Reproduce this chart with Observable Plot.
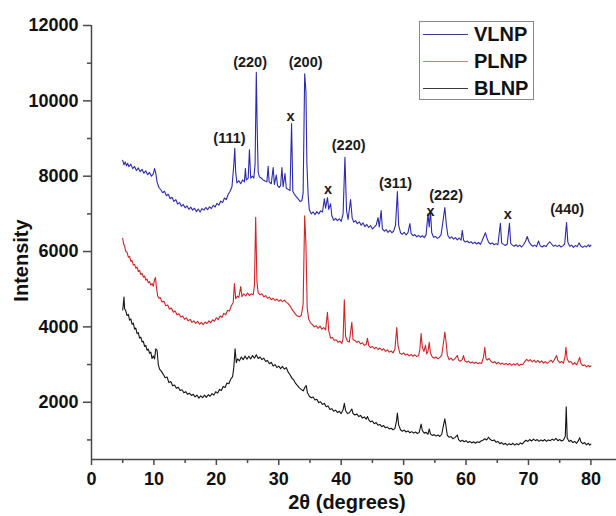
<!DOCTYPE html>
<html>
<head>
<meta charset="utf-8">
<script src="https://cdn.jsdelivr.net/npm/d3@7"></script>
<script src="https://cdn.jsdelivr.net/npm/@observablehq/plot@0.6"></script>
<style>
  html, body { margin: 0; padding: 0; background: #fff; }
  #wrap { position: relative; width: 616px; height: 516px; font-family: "Liberation Sans", Arial, sans-serif; }
  #legend { position: absolute; left: 419px; top: 21px; width: 113px; height: 77px; border: 1px solid #888; background: #fff; }
  .row { position: absolute; left: 0; height: 24px; width: 113px; }
  .row .ln { position: absolute; left: 3px; top: 12px; width: 45px; height: 0; border-top: 1px solid; }
  .row .tx { position: absolute; left: 54px; top: 0; font-size: 20px; font-weight: bold; line-height: 24px; color: #111; }
</style>
</head>
<body>
<div id="wrap"><div id="legend"></div></div>
<script>
// ---- data ----
const seriesNames = ["VLNP", "PLNP", "BLNP"];
const seriesColors = ["#2a2ab2", "#d42222", "#141414"];

const xVLNP = [5.0,5.2,5.4,5.6,5.8,6.0,6.3,6.6,6.9,7.2,7.5,7.8,8.1,8.4,8.7,9.0,9.3,9.6,9.9,10.1,10.3,10.5,10.8,11.1,11.4,11.7,12.0,12.3,12.6,12.9,13.2,13.5,13.8,14.1,14.4,14.7,15.0,15.3,15.6,15.9,16.2,16.5,16.8,17.1,17.4,17.7,18.0,18.3,18.6,18.9,19.2,19.5,19.8,20.1,20.4,20.7,21.0,21.3,21.6,21.9,22.2,22.5,22.8,22.95,23.1,23.3,23.6,23.9,24.2,24.5,24.65,24.8,25.1,25.3,25.5,25.8,26.0,26.2,26.4,26.55,26.7,26.9,27.2,27.5,27.8,28.1,28.3,28.45,28.8,29.1,29.3,29.6,29.8,30.1,30.3,30.5,30.7,31.0,31.2,31.5,31.8,32.05,32.25,32.5,32.8,33.1,33.4,33.7,33.9,34.15,34.35,34.5,34.7,34.9,35.2,35.5,35.8,36.1,36.4,36.7,37.0,37.3,37.5,37.8,38.0,38.3,38.5,38.8,39.1,39.4,39.7,40.0,40.3,40.6,40.85,41.1,41.5,41.75,42.0,42.3,42.6,42.9,43.2,43.5,43.8,44.1,44.4,44.7,45.0,45.3,45.6,45.9,46.1,46.4,46.6,46.9,47.2,47.5,47.8,48.1,48.4,48.7,49.0,49.2,49.5,49.8,50.1,50.4,50.7,51.0,51.2,51.5,51.8,52.1,52.4,52.7,53.0,53.3,53.6,53.9,54.1,54.3,54.5,54.8,55.1,55.4,55.7,56.0,56.3,56.6,56.85,57.1,57.4,57.7,58.0,58.3,58.6,58.9,59.2,59.4,59.6,59.9,60.2,60.5,60.8,61.1,61.4,61.7,62.0,62.3,62.6,62.9,63.1,63.3,63.6,63.9,64.2,64.5,64.8,65.1,65.5,65.7,66.0,66.3,66.6,66.95,67.15,67.4,67.7,68.0,68.3,68.6,68.9,69.2,69.5,69.8,70.1,70.4,70.7,71.0,71.3,71.6,71.9,72.2,72.5,72.8,73.1,73.4,73.7,74.0,74.3,74.6,74.9,75.2,75.5,75.8,76.1,76.3,76.6,76.9,77.2,77.5,77.8,78.1,78.4,78.7,79.0,79.3,79.6,79.8,80.0];
const yVLNP = [8420,8300,8380,8280,8340,8250,8320,8200,8260,8150,8220,8120,8180,8080,8140,8040,8100,8000,8060,8200,8080,7850,7700,7640,7560,7600,7480,7520,7400,7440,7330,7380,7260,7300,7200,7250,7160,7210,7120,7180,7100,7150,7060,7130,7050,7140,7100,7170,7110,7190,7140,7230,7180,7280,7230,7340,7300,7420,7380,7520,7600,7720,8300,8740,8100,7820,7880,7800,7900,7850,8200,7900,7950,8700,7950,8000,7950,8300,10760,9200,8100,7980,7950,7900,7870,7850,8260,7850,7800,8230,7780,8030,7750,7700,7760,8230,7720,8070,7680,7650,7620,9400,7600,7520,7460,7400,7330,7350,7550,10720,10250,8360,7500,7100,7000,7050,6980,7060,7000,7080,7050,7400,7150,7430,7120,7270,6950,6830,6880,6820,6870,6800,7000,8500,7100,6850,7380,6900,6780,6820,6740,6790,6700,6760,6660,6720,6640,6690,6600,6650,6700,6900,6650,7090,6600,6540,6580,6510,6560,6500,6540,6700,7590,6700,6500,6460,6510,6440,6500,6740,6480,6420,6450,6390,6430,6380,6420,6370,6450,7000,6650,7090,6500,6380,6400,6350,6380,6450,6800,7170,6700,6420,6350,6390,6330,6370,6310,6360,6300,6560,6300,6250,6280,6230,6260,6210,6250,6200,6240,6190,6300,6420,6500,6380,6250,6200,6230,6180,6210,6180,6750,6230,6190,6160,6200,6750,6220,6170,6140,6180,6130,6170,6120,6180,6260,6400,6250,6180,6140,6170,6130,6280,6150,6120,6160,6130,6200,6260,6200,6140,6170,6130,6170,6120,6150,6200,6770,6250,6140,6170,6110,6160,6130,6230,6140,6110,6150,6120,6180,6130,6170];

const xPLNP = [5.0,5.15,5.3,5.5,5.7,5.9,6.1,6.3,6.5,6.7,6.9,7.1,7.3,7.5,7.7,7.9,8.1,8.3,8.5,8.7,8.9,9.1,9.3,9.5,9.7,9.9,10.1,10.25,10.4,10.6,10.8,11.0,11.3,11.6,11.9,12.2,12.5,12.8,13.1,13.4,13.7,14.0,14.3,14.6,14.9,15.2,15.5,15.8,16.1,16.4,16.7,17.0,17.3,17.6,17.9,18.2,18.5,18.8,19.1,19.4,19.7,20.0,20.3,20.6,20.9,21.2,21.5,21.8,22.1,22.4,22.7,22.9,23.1,23.4,23.6,23.9,24.1,24.4,24.7,25.0,25.3,25.6,25.9,26.1,26.3,26.5,26.7,27.0,27.3,27.6,27.9,28.2,28.5,28.8,29.1,29.4,29.7,30.0,30.3,30.6,30.9,31.2,31.5,31.8,32.1,32.4,32.7,33.0,33.3,33.6,33.9,34.15,34.35,34.55,34.8,35.1,35.4,35.7,36.0,36.3,36.6,36.9,37.2,37.5,37.8,38.0,38.3,38.6,38.9,39.2,39.5,39.8,40.1,40.3,40.5,40.7,41.0,41.3,41.7,41.9,42.2,42.5,42.8,43.1,43.4,43.7,44.0,44.2,44.4,44.7,45.0,45.3,45.6,45.9,46.2,46.5,46.8,47.1,47.4,47.7,48.0,48.3,48.6,48.9,49.1,49.4,49.7,50.0,50.3,50.6,50.9,51.2,51.5,51.8,52.1,52.4,52.6,52.8,53.0,53.25,53.5,53.7,53.9,54.1,54.3,54.6,54.9,55.2,55.5,55.8,56.1,56.4,56.6,56.8,57.0,57.3,57.6,57.9,58.2,58.6,58.8,59.1,59.4,59.6,59.8,60.1,60.4,60.7,61.0,61.3,61.6,61.9,62.2,62.5,62.8,63.0,63.2,63.4,63.7,64.0,64.3,64.6,64.9,65.2,65.5,65.8,66.1,66.4,66.7,67.0,67.3,67.6,67.9,68.2,68.5,68.8,69.1,69.4,69.7,70.0,70.3,70.6,70.9,71.2,71.5,71.8,72.1,72.4,72.7,73.0,73.3,73.6,73.9,74.2,74.5,74.7,75.0,75.3,75.6,75.85,76.0,76.2,76.5,76.8,77.1,77.4,77.7,78.0,78.2,78.4,78.7,79.0,79.3,79.6,79.8,80.0];
const yPLNP = [6350,6200,6150,6000,5980,5850,5870,5740,5760,5640,5660,5560,5590,5470,5500,5390,5420,5320,5350,5240,5270,5170,5200,5110,5150,5080,5250,5310,5050,4820,4760,4780,4660,4680,4560,4580,4470,4500,4390,4420,4320,4350,4260,4290,4200,4240,4160,4200,4120,4160,4090,4150,4070,4120,4060,4130,4090,4160,4110,4190,4150,4240,4190,4290,4250,4360,4320,4440,4420,4560,4650,5150,4750,4820,4780,5070,4800,4880,4820,4900,4830,4880,4850,5100,6910,5200,4900,4850,4880,4800,4830,4760,4790,4720,4760,4700,4740,4680,4720,4670,4710,4650,4620,4560,4470,4400,4330,4290,4270,4300,4600,6950,6200,4500,4200,4100,4060,4000,4030,3960,4020,3940,3980,3920,4390,3900,3700,3720,3640,3660,3590,3620,3560,3700,4720,3750,3620,3600,4120,3660,3640,3590,3620,3550,3580,3510,3530,3700,3510,3450,3480,3420,3460,3400,3440,3380,3420,3350,3390,3330,3360,3310,3400,3980,3500,3300,3270,3310,3250,3280,3230,3270,3220,3260,3210,3240,3400,3820,3450,3350,3510,3280,3350,3590,3300,3200,3170,3200,3150,3190,3250,3600,3860,3600,3250,3130,3170,3110,3150,3240,3120,3090,3130,3240,3100,3060,3090,3040,3070,3030,3060,3020,3050,3030,3200,3460,3150,3120,3160,3080,3050,3080,3020,3060,3010,3040,3000,3030,2990,3030,2980,3020,2990,3030,2970,3010,3000,3080,3140,3090,3130,3070,3120,3060,3110,3050,3100,3040,3080,3030,3070,3120,3060,3150,3240,3110,3050,3080,3040,3200,3460,3150,3060,3080,3000,3050,2990,3100,3190,3030,2970,2990,2940,2980,2940,2960];

const xBLNP = [5.0,5.1,5.2,5.3,5.5,5.7,5.9,6.1,6.3,6.5,6.7,6.9,7.1,7.3,7.5,7.7,7.9,8.1,8.3,8.5,8.7,8.9,9.1,9.3,9.5,9.7,9.9,10.1,10.3,10.5,10.7,10.9,11.2,11.5,11.8,12.1,12.4,12.7,13.0,13.3,13.6,13.9,14.2,14.5,14.8,15.1,15.4,15.7,16.0,16.3,16.6,16.9,17.2,17.5,17.8,18.1,18.4,18.7,19.0,19.3,19.6,19.9,20.2,20.5,20.8,21.1,21.4,21.7,22.0,22.3,22.6,22.8,23.0,23.2,23.4,23.7,24.0,24.3,24.6,24.9,25.2,25.5,25.8,26.1,26.4,26.7,27.0,27.3,27.6,27.9,28.2,28.5,28.8,29.1,29.4,29.7,30.0,30.3,30.6,30.9,31.2,31.5,31.8,32.1,32.4,32.7,33.0,33.3,33.6,33.9,34.2,34.4,34.6,34.9,35.2,35.5,35.8,36.1,36.4,36.7,37.0,37.3,37.6,37.9,38.2,38.5,38.8,39.1,39.4,39.7,40.0,40.3,40.5,40.7,41.0,41.3,41.7,41.9,42.2,42.5,42.8,43.1,43.4,43.7,44.0,44.2,44.4,44.7,45.0,45.3,45.6,45.9,46.2,46.5,46.8,47.1,47.4,47.7,48.0,48.3,48.6,48.85,49.0,49.2,49.5,49.8,50.1,50.4,50.7,51.0,51.3,51.6,51.9,52.2,52.5,52.8,53.0,53.3,53.6,53.9,54.1,54.3,54.6,54.9,55.2,55.5,55.8,56.1,56.4,56.6,56.8,57.0,57.3,57.6,57.9,58.2,58.6,58.8,59.1,59.4,59.7,60.0,60.3,60.6,60.9,61.2,61.5,61.8,62.1,62.4,62.7,63.0,63.3,63.6,63.9,64.2,64.5,64.8,65.1,65.4,65.7,66.0,66.3,66.6,66.9,67.2,67.5,67.8,68.1,68.4,68.7,69.0,69.3,69.6,69.9,70.2,70.5,70.8,71.1,71.4,71.7,72.0,72.3,72.6,72.9,73.2,73.5,73.8,74.1,74.4,74.7,75.0,75.3,75.6,75.9,76.05,76.2,76.5,76.8,77.1,77.4,77.7,78.0,78.2,78.4,78.7,79.0,79.3,79.6,79.8,80.0];
const yBLNP = [4450,4600,4790,4490,4420,4300,4330,4180,4210,4070,4100,3940,3970,3820,3850,3700,3730,3600,3620,3480,3510,3380,3410,3300,3330,3160,3230,3150,3420,3380,3000,2880,2820,2740,2650,2670,2520,2550,2440,2460,2370,2400,2310,2330,2250,2280,2210,2240,2180,2210,2140,2190,2110,2170,2120,2190,2130,2200,2160,2230,2190,2280,2240,2340,2310,2420,2390,2510,2490,2610,2680,2930,3420,3050,3150,3100,3200,3130,3230,3140,3220,3150,3240,3170,3260,3160,3200,3130,3170,3080,3110,3020,3060,2960,3000,2920,2960,2890,2950,2880,2920,2800,2730,2640,2590,2500,2440,2380,2340,2300,2400,2440,2250,2160,2120,2140,2060,2080,1990,2010,1940,1970,1880,1900,1810,1830,1760,1790,1730,1760,1700,1800,1970,1780,1700,1720,1820,1700,1660,1690,1620,1650,1580,1610,1550,1620,1540,1480,1500,1430,1460,1390,1410,1350,1380,1320,1340,1290,1310,1270,1300,1500,1710,1400,1270,1230,1260,1210,1240,1190,1220,1180,1210,1170,1200,1420,1250,1180,1200,1150,1290,1160,1120,1140,1100,1130,1090,1150,1400,1560,1350,1120,1070,1090,1030,1060,1130,1010,960,990,950,980,930,960,920,950,910,950,930,970,990,1030,1000,1070,1010,980,1000,940,960,900,930,880,910,860,900,870,910,860,900,870,920,890,950,990,960,1010,970,1020,980,1010,960,1000,970,1010,960,1000,980,1020,990,1040,980,1010,970,1000,1100,1880,1050,960,990,930,960,910,980,1060,950,900,930,870,910,860,890];

const peakText = ["(111)", "(220)", "x", "(200)", "x", "(220)", "(311)", "x", "(222)", "x", "(440)"];
const peakX = [22.1, 25.4, 31.9, 34.3, 37.9, 41.2, 48.7, 54.3, 56.8, 66.7, 76.2];
const peakY = [9000, 11020, 9590, 11020, 7650, 8810, 7800, 7070, 7490, 6975, 7110];

const xTicks = [0, 10, 20, 30, 40, 50, 60, 70, 80];
const xMinorTicks = [5, 15, 25, 35, 45, 55, 65, 75];
const yTicks = [2000, 4000, 6000, 8000, 10000, 12000];
const yMinorTicks = [1000, 3000, 5000, 7000, 9000, 11000];
const xDomain = [0, 84.1];
const yDomain = [480, 12000];

// ---- build ----
const xsAll = [xVLNP, xPLNP, xBLNP];
const ysAll = [yVLNP, yPLNP, yBLNP];
const rows = [];
seriesNames.forEach((s, k) => {
  xsAll[k].forEach((x, i) => rows.push({series: s, x, y: ysAll[k][i]}));
});
const peaks = peakText.map((t, i) => ({t, x: peakX[i], y: peakY[i]}));

const axisColor = "#4a4a4a";
const plain = d => String(d);
const chart = Plot.plot({
  width: 616,
  height: 516,
  marginLeft: 91,
  marginRight: 0,
  marginTop: 25,
  marginBottom: 57,
  style: {fontFamily: "'Liberation Sans', Arial, sans-serif", fontWeight: "bold", fontSize: "18px", color: "#111", background: "#fff"},
  x: {domain: xDomain},
  y: {domain: yDomain},
  color: {domain: seriesNames, range: seriesColors},
  marks: [
    Plot.line(rows, {x: "x", y: "y", z: "series", stroke: "series", strokeWidth: 1.1, strokeLinejoin: "round"}),
    Plot.text(peaks, {x: "x", y: "y", text: "t", fontSize: 14.5, fontWeight: "bold", fill: "#1a1a1a"}),
    Plot.axisX({ticks: xTicks, tickFormat: plain, tickSize: 6, tickPadding: 7, stroke: axisColor, strokeWidth: 1.5, label: null, fontWeight: "bold"}),
    Plot.axisX({ticks: xMinorTicks, tickSize: 4, tickFormat: () => "", stroke: axisColor, strokeWidth: 1.5, label: null}),
    Plot.axisY({ticks: yTicks, tickFormat: plain, tickSize: 8, tickPadding: 5, stroke: axisColor, strokeWidth: 1.5, label: null, fontWeight: "bold"}),
    Plot.axisY({ticks: yMinorTicks, tickSize: 4, tickFormat: () => "", stroke: axisColor, strokeWidth: 1.5, label: null}),
    Plot.ruleY([yDomain[0]], {stroke: axisColor, strokeWidth: 1.5}),
    Plot.ruleX([xDomain[0]], {y1: yDomain[0], y2: yDomain[1], stroke: axisColor, strokeWidth: 1.5}),
    Plot.text(["2θ (degrees)"], {frameAnchor: "bottom", lineAnchor: "middle", textAnchor: "middle", dx: -7, dy: 43, fontSize: 20, fontWeight: "bold", fill: "#111"}),
    Plot.text(["Intensity"], {frameAnchor: "left", lineAnchor: "middle", textAnchor: "middle", rotate: -90, dx: -70, dy: 18, fontSize: 20, fontWeight: "bold", fill: "#111"})
  ]
});
const wrap = document.getElementById("wrap");
wrap.insertBefore(chart, wrap.firstChild);

// legend
const legend = document.getElementById("legend");
const legendLineColors = ["#3a3a9a", "#e07a7a", "#3a3a3a"];
seriesNames.forEach((s, i) => {
  const r = document.createElement("div");
  r.className = "row";
  r.style.top = (i * 27) + "px";
  const ln = document.createElement("div");
  ln.className = "ln";
  ln.style.borderTopColor = legendLineColors[i];
  const tx = document.createElement("div");
  tx.className = "tx";
  tx.textContent = s;
  r.appendChild(ln); r.appendChild(tx);
  legend.appendChild(r);
});
</script>
</body>
</html>
